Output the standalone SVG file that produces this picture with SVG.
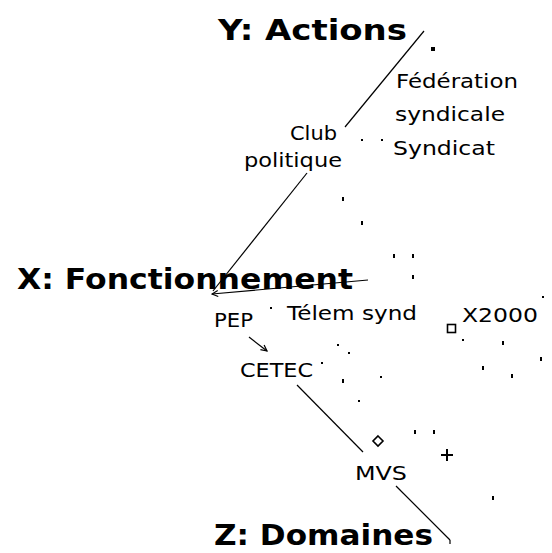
<svg xmlns="http://www.w3.org/2000/svg" width="552" height="553" viewBox="0 0 552 553">
<style>
.ax{font-family:"DejaVu Sans","Liberation Sans",sans-serif;font-weight:bold;font-size:29px;fill:#000}
.lb{font-family:"DejaVu Sans","Liberation Sans",sans-serif;font-size:20px;fill:#000}
.ln{stroke:#000;stroke-width:1.2;fill:none}
.dot{fill:#000}
</style>
<defs>
<marker id="ah" markerWidth="8" markerHeight="8" refX="7" refY="4" orient="auto" markerUnits="userSpaceOnUse">
<path d="M1,1 L7,4 L1,7" fill="none" stroke="#000" stroke-width="1.2"/>
</marker>
</defs>
<rect width="552" height="553" fill="#fff"/>
<g id="connectors">
<line class="ln" x1="424" y1="31" x2="345" y2="127"/>
<line class="ln" x1="307" y1="173" x2="213" y2="291"/>
<line class="ln" x1="368" y1="280" x2="212" y2="294" marker-end="url(#ah)"/>
<line class="ln" x1="249" y1="337" x2="267" y2="351" marker-end="url(#ah)"/>
<line class="ln" x1="297" y1="385" x2="363" y2="452"/>
<line class="ln" x1="396" y1="486" x2="450" y2="540"/>
<line class="ln" x1="450" y1="540" x2="450" y2="544"/>
</g>
<g id="axis-y"><text class="ax" x="218" y="40" textLength="189" lengthAdjust="spacingAndGlyphs">Y: Actions</text></g>
<g id="axis-x"><text class="ax" x="17" y="289" textLength="336" lengthAdjust="spacingAndGlyphs">X: Fonctionnement</text></g>
<g id="axis-z"><text class="ax" x="214" y="545" textLength="219" lengthAdjust="spacingAndGlyphs">Z: Domaines</text></g>
<g id="federation"><text class="lb" x="396" y="88" textLength="122" lengthAdjust="spacingAndGlyphs">Fédération</text>
<text class="lb" x="395" y="121" textLength="110" lengthAdjust="spacingAndGlyphs">syndicale</text></g>
<g id="syndicat"><text class="lb" x="393" y="155" textLength="102" lengthAdjust="spacingAndGlyphs">Syndicat</text></g>
<g id="club"><text class="lb" x="290" y="140" textLength="47" lengthAdjust="spacingAndGlyphs">Club</text>
<text class="lb" x="244" y="167" textLength="98" lengthAdjust="spacingAndGlyphs">politique</text></g>
<g id="telem"><text class="lb" x="287" y="320" textLength="130" lengthAdjust="spacingAndGlyphs">Télem synd</text></g>
<g id="pep"><text class="lb" x="214" y="327" textLength="39" lengthAdjust="spacingAndGlyphs">PEP</text></g>
<g id="x2000"><text class="lb" x="462" y="322" textLength="76" lengthAdjust="spacingAndGlyphs">X2000</text>
<rect x="447.5" y="324.5" width="8" height="8" fill="none" stroke="#000" stroke-width="1.6"/></g>
<g id="cetec"><text class="lb" x="240" y="377" textLength="73" lengthAdjust="spacingAndGlyphs">CETEC</text></g>
<g id="mvs"><text class="lb" x="355" y="480" textLength="52" lengthAdjust="spacingAndGlyphs">MVS</text></g>
<g id="markers">
<path d="M378,436 L383,441 L378,446 L373,441 Z" fill="none" stroke="#000" stroke-width="1.6"/>
<path d="M441,455 H453 M447,449 V461" stroke="#000" stroke-width="2"/>
</g>
<g id="points">
<rect class="dot" x="431" y="47" width="4" height="4"/>
<rect class="dot" x="361" y="139" width="2" height="2"/>
<rect class="dot" x="381" y="139" width="2" height="2"/>
<rect class="dot" x="342" y="197" width="2" height="4"/>
<rect class="dot" x="361" y="221" width="2" height="4"/>
<rect class="dot" x="393" y="254" width="2" height="4"/>
<rect class="dot" x="412" y="254" width="2" height="4"/>
<rect class="dot" x="412" y="275" width="2" height="4"/>
<rect class="dot" x="542" y="296" width="2" height="2"/>
<rect class="dot" x="270" y="307" width="2" height="2"/>
<rect class="dot" x="462" y="339" width="2" height="2"/>
<rect class="dot" x="502" y="341" width="2" height="4"/>
<rect class="dot" x="540" y="357" width="2" height="4"/>
<rect class="dot" x="482" y="366" width="2" height="4"/>
<rect class="dot" x="511" y="374" width="2" height="4"/>
<rect class="dot" x="337" y="344" width="2" height="2"/>
<rect class="dot" x="348" y="352" width="2" height="2"/>
<rect class="dot" x="321" y="362" width="2" height="2"/>
<rect class="dot" x="342" y="379" width="2" height="4"/>
<rect class="dot" x="380" y="376" width="2" height="2"/>
<rect class="dot" x="358" y="400" width="2" height="2"/>
<rect class="dot" x="414" y="430" width="2" height="4"/>
<rect class="dot" x="433" y="430" width="2" height="4"/>
<rect class="dot" x="492" y="496" width="2" height="4"/>
</g>
</svg>
